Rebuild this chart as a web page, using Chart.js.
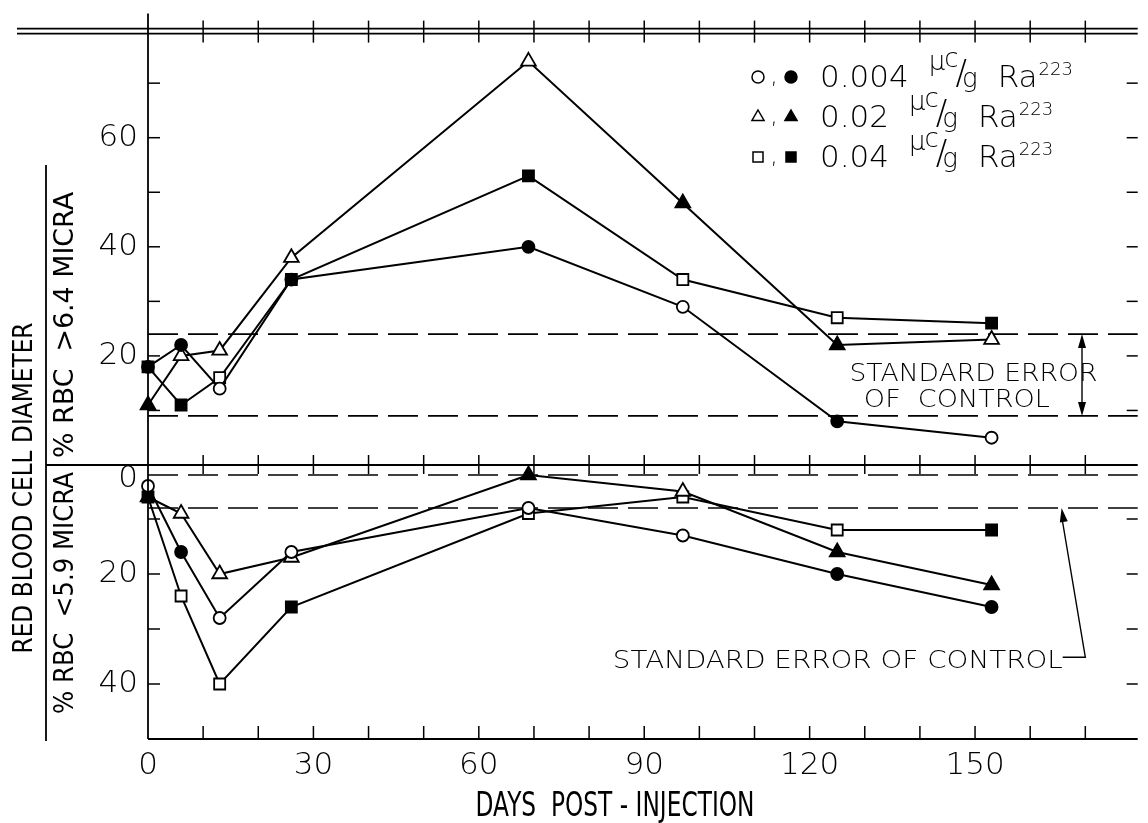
<!DOCTYPE html>
<html>
<head>
<meta charset="utf-8">
<script src="https://cdn.jsdelivr.net/npm/chart.js@4.4.0/dist/chart.umd.min.js"></script>
<style>
  body { margin: 0; background: #fff; }
  #wrap { position: relative; width: 1148px; height: 823px; }
  canvas { position: absolute; left: 0; top: 0; }
</style>
</head>
<body>
<div id="wrap">
  <canvas id="upper" width="1148" height="823"></canvas>
  <canvas id="lower" width="1148" height="823"></canvas>
</div>
<script>
// days post-injection of the readings
const days = [0, 6, 13, 26, 69, 97, 125, 153];

// doses, uc/g Ra223 (circle, triangle, square)
const doses = ['0.004', '0.02', '0.04'];

// % RBC > 6.4 micra
const bigCircle   = [18, 22, 14, 34, 40, 29, 8, 5];
const bigTriangle = [11, 20, 21, 38, 74, 48, 22, 23];
const bigSquare   = [18, 11, 16, 34, 53, 34, 27, 26];

// % RBC < 5.9 micra
const smallCircle   = [4, 16, 28, 16, 8, 13, 20, 26];
const smallTriangle = [6, 9, 20, 17, 2, 5, 16, 22];
const smallSquare   = [6, 24, 40, 26, 9, 6, 12, 12];

// 1 = solid symbol, 0 = open symbol
const bigCircleSolid     = [1, 1, 0, 1, 1, 0, 1, 0];
const bigTriangleSolid   = [1, 0, 0, 0, 0, 1, 1, 0];
const bigSquareSolid     = [0, 1, 0, 0, 1, 0, 0, 1];
const smallCircleSolid   = [0, 1, 0, 0, 0, 0, 1, 1];
const smallTriangleSolid = [1, 0, 0, 0, 1, 0, 1, 1];
const smallSquareSolid   = [1, 0, 0, 1, 0, 0, 0, 1];

// standard error of control (low, high)
const bigControl   = [9, 24];
const smallControl = [2, 8];

// tick labels
const dayLabels   = [0, 30, 60, 90, 120, 150];
const bigLabels   = [20, 40, 60];
const smallLabels = [20, 40];

const X_MAX = 179.5;
const FAMILY = '"DejaVu Sans"';
const tickFont = { family: FAMILY, size: 31, weight: 200 };

function series(values, solid, style, radius) {
  return {
    data: days.map((d, i) => ({ x: d, y: values[i] })),
    borderColor: '#000',
    borderWidth: 2,
    tension: 0,
    fill: false,
    pointStyle: style,
    pointRadius: radius,
    pointBorderWidth: 1.8,
    pointBorderColor: '#000',
    pointBackgroundColor: solid.map(s => s ? '#000' : '#fff'),
    clip: 30
  };
}

function band(v) {
  return {
    data: [{ x: 0, y: v }, { x: X_MAX, y: v }],
    borderColor: '#000',
    borderWidth: 1.6,
    borderDash: [30, 10],
    pointRadius: 0,
    clip: 2
  };
}

function line(ctx, x1, y1, x2, y2) {
  ctx.beginPath();
  ctx.moveTo(x1, y1);
  ctx.lineTo(x2, y2);
  ctx.stroke();
}

function arrowHead(ctx, fx, fy, tx, ty) {
  const ang = Math.atan2(ty - fy, tx - fx);
  const len = 14, half = 4;
  ctx.beginPath();
  ctx.moveTo(tx, ty);
  ctx.lineTo(tx - len * Math.cos(ang) + half * Math.sin(ang), ty - len * Math.sin(ang) - half * Math.cos(ang));
  ctx.lineTo(tx - len * Math.cos(ang) - half * Math.sin(ang), ty - len * Math.sin(ang) + half * Math.cos(ang));
  ctx.closePath();
  ctx.fill();
}

// text squeezed or stretched to a given width, optionally rotated
function fitText(ctx, s, cx, cy, width, size, rotate, weight) {
  ctx.save();
  ctx.font = `${weight || 200} ${size}px ${FAMILY}`;
  const w = ctx.measureText(s).width;
  ctx.translate(cx, cy);
  if (rotate) ctx.rotate(-Math.PI / 2);
  ctx.scale(width / w, 1);
  ctx.textAlign = 'center';
  ctx.textBaseline = 'alphabetic';
  ctx.fillText(s, 0, size * 0.729 / 2);
  ctx.restore();
}

function mark(ctx, style, x, y, r, solid) {
  ctx.beginPath();
  if (style === 'circle') {
    ctx.arc(x, y, r, 0, Math.PI * 2);
  } else if (style === 'triangle') {
    ctx.moveTo(x, y - r);
    ctx.lineTo(x + r * 0.866, y + r / 2);
    ctx.lineTo(x - r * 0.866, y + r / 2);
    ctx.closePath();
  } else {
    ctx.rect(x - r, y - r, 2 * r, 2 * r);
  }
  ctx.fillStyle = solid ? '#000' : '#fff';
  ctx.fill();
  ctx.lineWidth = 1.5;
  ctx.stroke();
  ctx.fillStyle = '#000';
}

function legendRow(ctx, dose, x, base) {
  let cx = x;
  const put = (s, size, dy) => {
    ctx.font = `200 ${size}px ${FAMILY}`;
    ctx.fillText(s, cx, base + dy);
    cx += ctx.measureText(s).width;
  };
  ctx.textAlign = 'left';
  ctx.textBaseline = 'alphabetic';
  put(dose, 31, 0);
  cx += 20;
  put('\u03bc', 26, -17);
  cx -= 1;
  put('c', 26, -20);
  cx -= 3;
  put('/', 34, -3);
  cx -= 5;
  put('g', 26, 0);
  cx += 20;
  put('Ra', 31, 0);
  cx += 1;
  put('223', 18, -12);
}

const upperDecor = {
  id: 'upperDecor',
  afterDraw(chart) {
    const { ctx, chartArea: a, scales: { x, y } } = chart;
    ctx.save();
    ctx.strokeStyle = '#000';
    ctx.fillStyle = '#000';
    ctx.lineWidth = 1.8;
    const top = y.getPixelForValue(80), zero = y.getPixelForValue(0);
    line(ctx, 17, top, a.right, top);
    line(ctx, 17, top + 5, a.right, top + 5);
    line(ctx, a.left, top - 15, a.left, zero);
    line(ctx, 46, zero, a.right, zero);
    line(ctx, 46, 165, 46, 741);

    ctx.lineWidth = 1.5;
    x.ticks.forEach(t => {
      if (t.value <= 0 || t.value % 10) return;
      const px = x.getPixelForValue(t.value);
      line(ctx, px, top - 8, px, top + 14);
      line(ctx, px, zero - 10, px, zero + 9);
    });
    y.ticks.forEach(t => {
      if (t.value <= 0 || t.value >= 80) return;
      const py = y.getPixelForValue(t.value);
      line(ctx, a.left, py, a.left + 12, py);
      line(ctx, a.right - 11, py, a.right, py);
    });

    // axis titles
    fitText(ctx, 'RED BLOOD CELL DIAMETER', 22, 488, 331, 27, true, 400);
    fitText(ctx, '% RBC  >6.4 MICRA', 63, 325, 266, 27, true, 400);
    fitText(ctx, '% RBC  <5.9 MICRA', 63, 593, 242, 27, true, 400);

    // standard error note
    const lo = y.getPixelForValue(bigControl[0]), hi = y.getPixelForValue(bigControl[1]);
    const mid = y.getPixelForValue((bigControl[0] + bigControl[1]) / 2);
    fitText(ctx, 'STANDARD ERROR', x.getPixelForValue(149.7), mid - 3, 248, 25, false);
    fitText(ctx, 'OF  CONTROL', x.getPixelForValue(146.7), mid + 23, 186, 25, false);
    const ax = x.getPixelForValue(169.4);
    ctx.lineWidth = 1.4;
    line(ctx, ax, hi + 6, ax, lo - 6);
    arrowHead(ctx, ax, mid, ax, hi);
    arrowHead(ctx, ax, mid, ax, lo);

    // legend
    const styles = ['circle', 'triangle', 'rect'];
    const sizes = [6, 7, 5];
    doses.forEach((d, i) => {
      const base = 87 + i * 40;
      mark(ctx, styles[i], 758, base - 10, sizes[i], false);
      ctx.font = `200 24px ${FAMILY}`;
      ctx.textAlign = 'center';
      ctx.fillText(',', 774, base - 4);
      mark(ctx, styles[i], 791, base - 10, sizes[i], true);
      legendRow(ctx, d, 820, base);
    });
    ctx.restore();
  }
};

const lowerDecor = {
  id: 'lowerDecor',
  afterDraw(chart) {
    const { ctx, chartArea: a, scales: { x, y } } = chart;
    ctx.save();
    ctx.strokeStyle = '#000';
    ctx.fillStyle = '#000';
    ctx.lineWidth = 1.8;
    line(ctx, a.left, a.top, a.left, a.bottom);
    line(ctx, a.left, a.bottom, a.right, a.bottom);
    ctx.lineWidth = 1.5;
    x.ticks.forEach(t => {
      if (t.value <= 0 || t.value % 10) return;
      const px = x.getPixelForValue(t.value);
      line(ctx, px, a.bottom - 13, px, a.bottom);
    });
    y.ticks.forEach(t => {
      if (t.value <= 0 || t.value >= 50) return;
      const py = y.getPixelForValue(t.value);
      line(ctx, a.left, py, a.left + 12, py);
      line(ctx, a.right - 11, py, a.right, py);
    });

    // zero label sits just under the dividing line
    ctx.font = `200 31px ${FAMILY}`;
    ctx.textAlign = 'right';
    ctx.textBaseline = 'middle';
    ctx.fillText('0', a.left - 10, y.getPixelForValue(0) + 15);

    fitText(ctx, 'DAYS  POST - INJECTION', 615, 804, 279, 34, false, 400);

    // standard error note
    const ty = y.getPixelForValue(35.5);
    fitText(ctx, 'STANDARD ERROR OF CONTROL', x.getPixelForValue(125.1), ty, 450, 25, false);
    const bx = x.getPixelForValue(170), tx = x.getPixelForValue(165.7);
    const tipY = y.getPixelForValue(smallControl[1]);
    ctx.lineWidth = 1.4;
    ctx.beginPath();
    ctx.moveTo(x.getPixelForValue(165.9), ty - 2);
    ctx.lineTo(bx, ty - 2);
    ctx.lineTo(tx, tipY + 8);
    ctx.stroke();
    arrowHead(ctx, bx, ty - 2, tx, tipY);
    ctx.restore();
  }
};

const common = {
  responsive: false,
  animation: false,
  events: [],
  devicePixelRatio: 1,
  plugins: { legend: { display: false }, tooltip: { enabled: false } }
};

new Chart(document.getElementById('upper'), {
  type: 'line',
  data: {
    datasets: [
      series(bigCircle, bigCircleSolid, 'circle', 6),
      series(bigTriangle, bigTriangleSolid, 'triangle', 8.5),
      series(bigSquare, bigSquareSolid, 'rect', 7.8),
      band(bigControl[0]),
      band(bigControl[1])
    ]
  },
  options: {
    ...common,
    layout: { padding: { left: 0, right: 0, top: 23, bottom: 823 - 465 } },
    scales: {
      x: { type: 'linear', min: 0, max: X_MAX, display: false, ticks: { stepSize: 10, includeBounds: false } },
      y: {
        type: 'linear', min: 0, max: 80, position: 'left',
        grid: { display: false, drawTicks: false },
        border: { display: false },
        ticks: {
          stepSize: 10, autoSkip: false, padding: 10, color: '#000', font: tickFont,
          callback: v => bigLabels.includes(v) ? String(v) : ''
        },
        afterFit: s => { s.width = 148; }
      }
    }
  },
  plugins: [upperDecor]
});

new Chart(document.getElementById('lower'), {
  type: 'line',
  data: {
    datasets: [
      series(smallCircle, smallCircleSolid, 'circle', 6),
      series(smallTriangle, smallTriangleSolid, 'triangle', 8.5),
      series(smallSquare, smallSquareSolid, 'rect', 7.8),
      band(smallControl[0]),
      band(smallControl[1])
    ]
  },
  options: {
    ...common,
    layout: { padding: { left: 0, right: 0, top: 464, bottom: 0 } },
    scales: {
      x: {
        type: 'linear', min: 0, max: X_MAX, position: 'bottom',
        grid: { display: false, drawTicks: false },
        border: { display: false },
        ticks: {
          stepSize: 10, includeBounds: false, autoSkip: false, maxRotation: 0,
          padding: 8, color: '#000', font: tickFont,
          callback: v => dayLabels.includes(v) ? String(v) : ''
        },
        afterFit: s => { s.height = 823 - 739; }
      },
      y: {
        type: 'linear', min: 0, max: 50, reverse: true, position: 'left',
        grid: { display: false, drawTicks: false },
        border: { display: false },
        ticks: {
          stepSize: 10, autoSkip: false, padding: 10, color: '#000', font: tickFont,
          callback: v => smallLabels.includes(v) ? String(v) : ''
        },
        afterFit: s => { s.width = 148; }
      }
    }
  },
  plugins: [lowerDecor]
});
</script>
</body>
</html>
